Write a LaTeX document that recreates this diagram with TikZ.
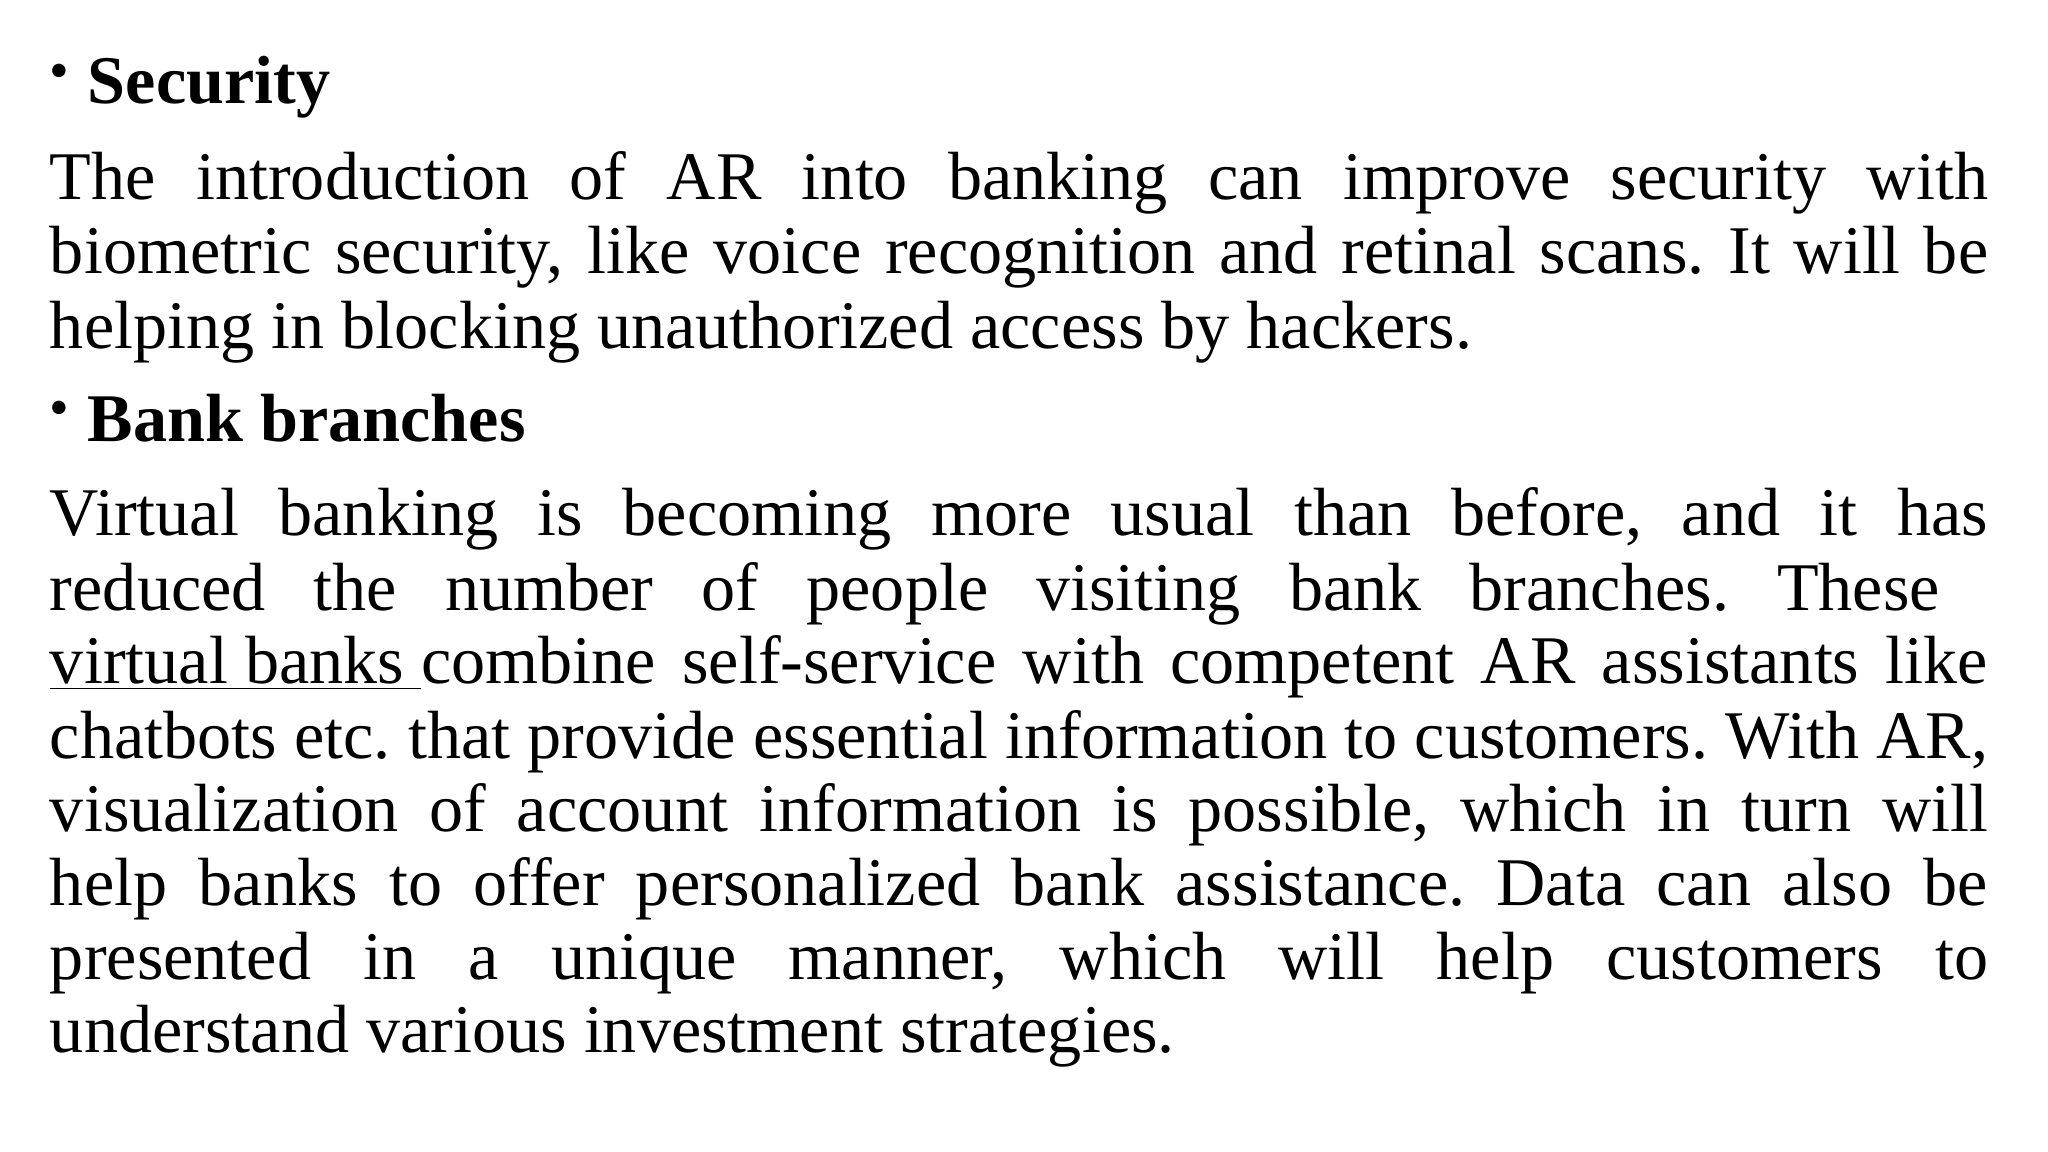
\documentclass[tikz,border=0pt]{standalone}
\usepackage{fontspec}
\setmainfont{Liberation Serif}
\frenchspacing
\tikzset{
  txt/.style={anchor=base west, inner sep=0pt, outer sep=0pt, font=\fontsize{19.4}{21}\selectfont},
  head/.style={anchor=base west, inner sep=0pt, outer sep=0pt, font=\fontsize{19.4}{21}\selectfont\bfseries},
  bul/.style={anchor=base west, inner sep=0pt, outer sep=0pt, font=\fontsize{16}{18}\selectfont}
}
\newcommand{\jline}[1]{\hbox to 19.38cm{#1}}
\begin{document}
\begin{tikzpicture}
\useasboundingbox (0,0) rectangle (20.48,-11.52);
\node[bul] (b1) at (0.50,-0.90) {•};
\node[head] (h1) at (0.88,-1.04) {Security};
\node[txt] (l1) at (0.5,-2.00) {\jline{The introduction of AR into banking can improve security with}};
\node[txt] (l2) at (0.5,-2.74) {\jline{biometric security, like voice recognition and retinal scans. It will be}};
\node[txt] (l3) at (0.5,-3.49) {helping in blocking unauthorized access by hackers.};
\node[bul] (b2) at (0.50,-4.27) {•};
\node[head] (h2) at (0.88,-4.41) {Bank branches};
\node[txt] (m1) at (0.5,-5.36) {\jline{Virtual banking is becoming more usual than before, and it has}};
\node[txt] (m2) at (0.5,-6.10) {\jline{reduced the number of people visiting bank branches. These\ }};
\node[txt] (m3) at (0.5,-6.83) {\jline{\underline{virtual banks\ }combine self-service with competent AR assistants like}};
\node[txt] (m4) at (0.5,-7.58) {\jline{chatbots etc. that provide essential information to customers. With AR,}};
\node[txt] (m5) at (0.5,-8.31) {\jline{visualization of account information is possible, which in turn will}};
\node[txt] (m6) at (0.5,-9.05) {\jline{help banks to offer personalized bank assistance. Data can also be}};
\node[txt] (m7) at (0.5,-9.79) {\jline{presented in a unique manner, which will help customers to}};
\node[txt] (m8) at (0.5,-10.52) {understand various investment strategies.};
\end{tikzpicture}
\end{document}
